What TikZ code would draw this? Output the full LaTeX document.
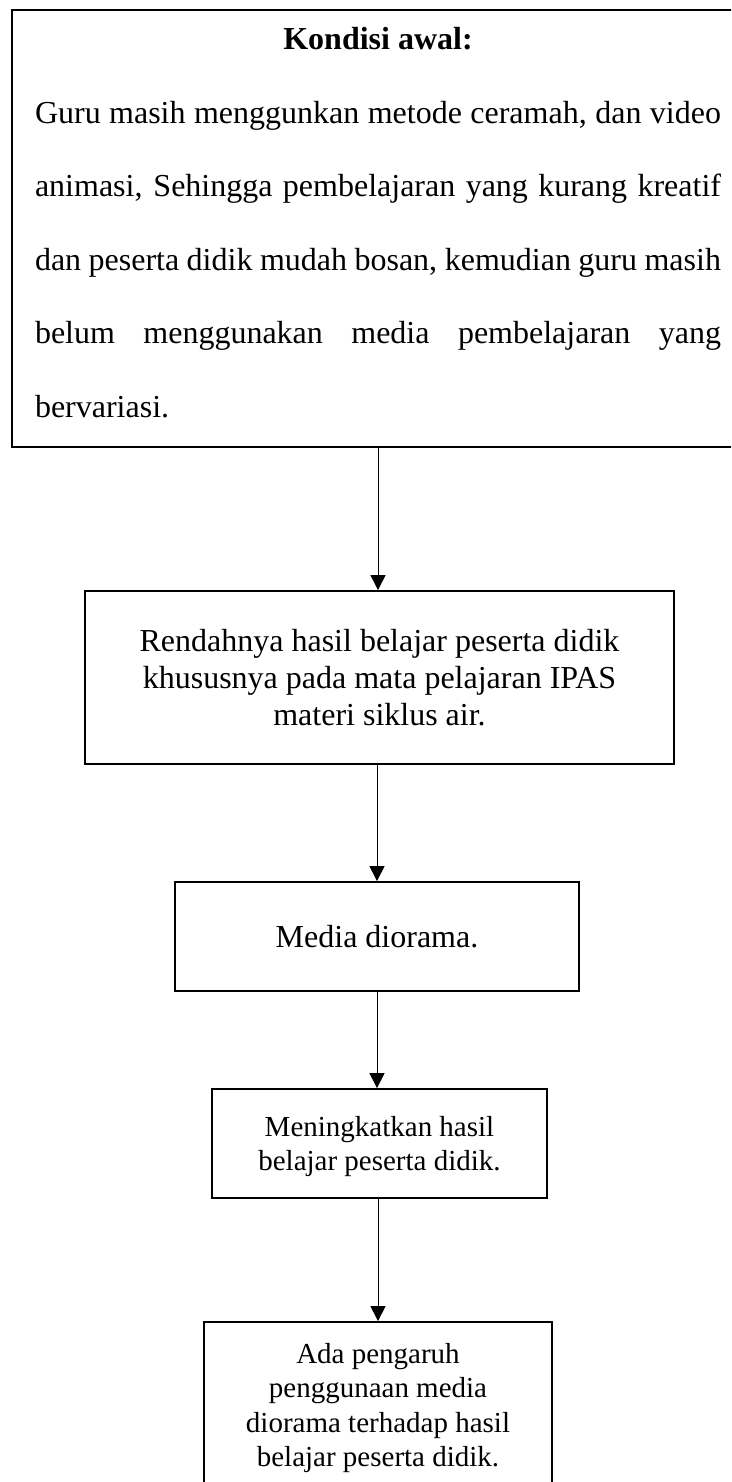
\documentclass[tikz,border=0pt]{standalone}
\usepackage{fontspec}
\setmainfont{Liberation Serif}
\usetikzlibrary{arrows.meta}
\begin{document}
\begin{tikzpicture}[x=1pt,y=1pt,
  boxnode/.style={draw, line width=1.8pt, rectangle, inner sep=0pt, align=center},
  flowarrow/.style={draw, line width=1pt, -{Triangle[length=15pt,width=15pt]}}]
\useasboundingbox (0,0) rectangle (731,-1482);
\clip (0,0) rectangle (731,-1482);
\fill[white] (0,0) rectangle (731,-1482);
\node[boxnode, line width=2.2pt, minimum width=732pt, minimum height=437pt] (kond) at (378,-228.5) {\parbox{686pt}{\fontsize{32}{73.5}\selectfont
{\centering\bfseries Kondisi awal:\par}
\makebox[686pt][s]{Guru masih menggunkan metode ceramah, dan video}\par
\makebox[686pt][s]{animasi, Sehingga pembelajaran yang kurang kreatif}\par
\makebox[686pt][s]{dan peserta didik mudah bosan, kemudian guru masih}\par
\makebox[686pt][s]{belum menggunakan media pembelajaran yang}\par
bervariasi.\rule[-12pt]{0pt}{12pt}}};
\node[boxnode, minimum width=589pt, minimum height=173pt, font=\fontsize{32}{37}\selectfont] (b2) at (379.5,-677.5) {Rendahnya hasil belajar peserta didik\\khususnya pada mata pelajaran IPAS\\materi siklus air.};
\node[boxnode, minimum width=404pt, minimum height=109pt, font=\fontsize{32}{37}\selectfont] (b3) at (377,-936.5) {Media diorama.};
\node[boxnode, minimum width=335pt, minimum height=109pt, font=\fontsize{29}{34}\selectfont] (b4) at (379.5,-1143.5) {\rule{0pt}{27pt}Meningkatkan hasil\\belajar peserta didik.};
\node[boxnode, minimum width=348pt, minimum height=172pt, font=\fontsize{29}{34.5}\selectfont] (b5) at (378,-1408) {Ada pengaruh\\penggunaan media\\diorama terhadap hasil\\belajar peserta didik.};
\draw[flowarrow] (kond.south) -- (kond.south |- b2.north);
\draw[flowarrow] (b3.north |- b2.south) -- (b3.north);
\draw[flowarrow] (b3.south) -- (b3.south |- b4.north);
\draw[flowarrow] (b5.north |- b4.south) -- (b5.north);
\end{tikzpicture}
\end{document}
